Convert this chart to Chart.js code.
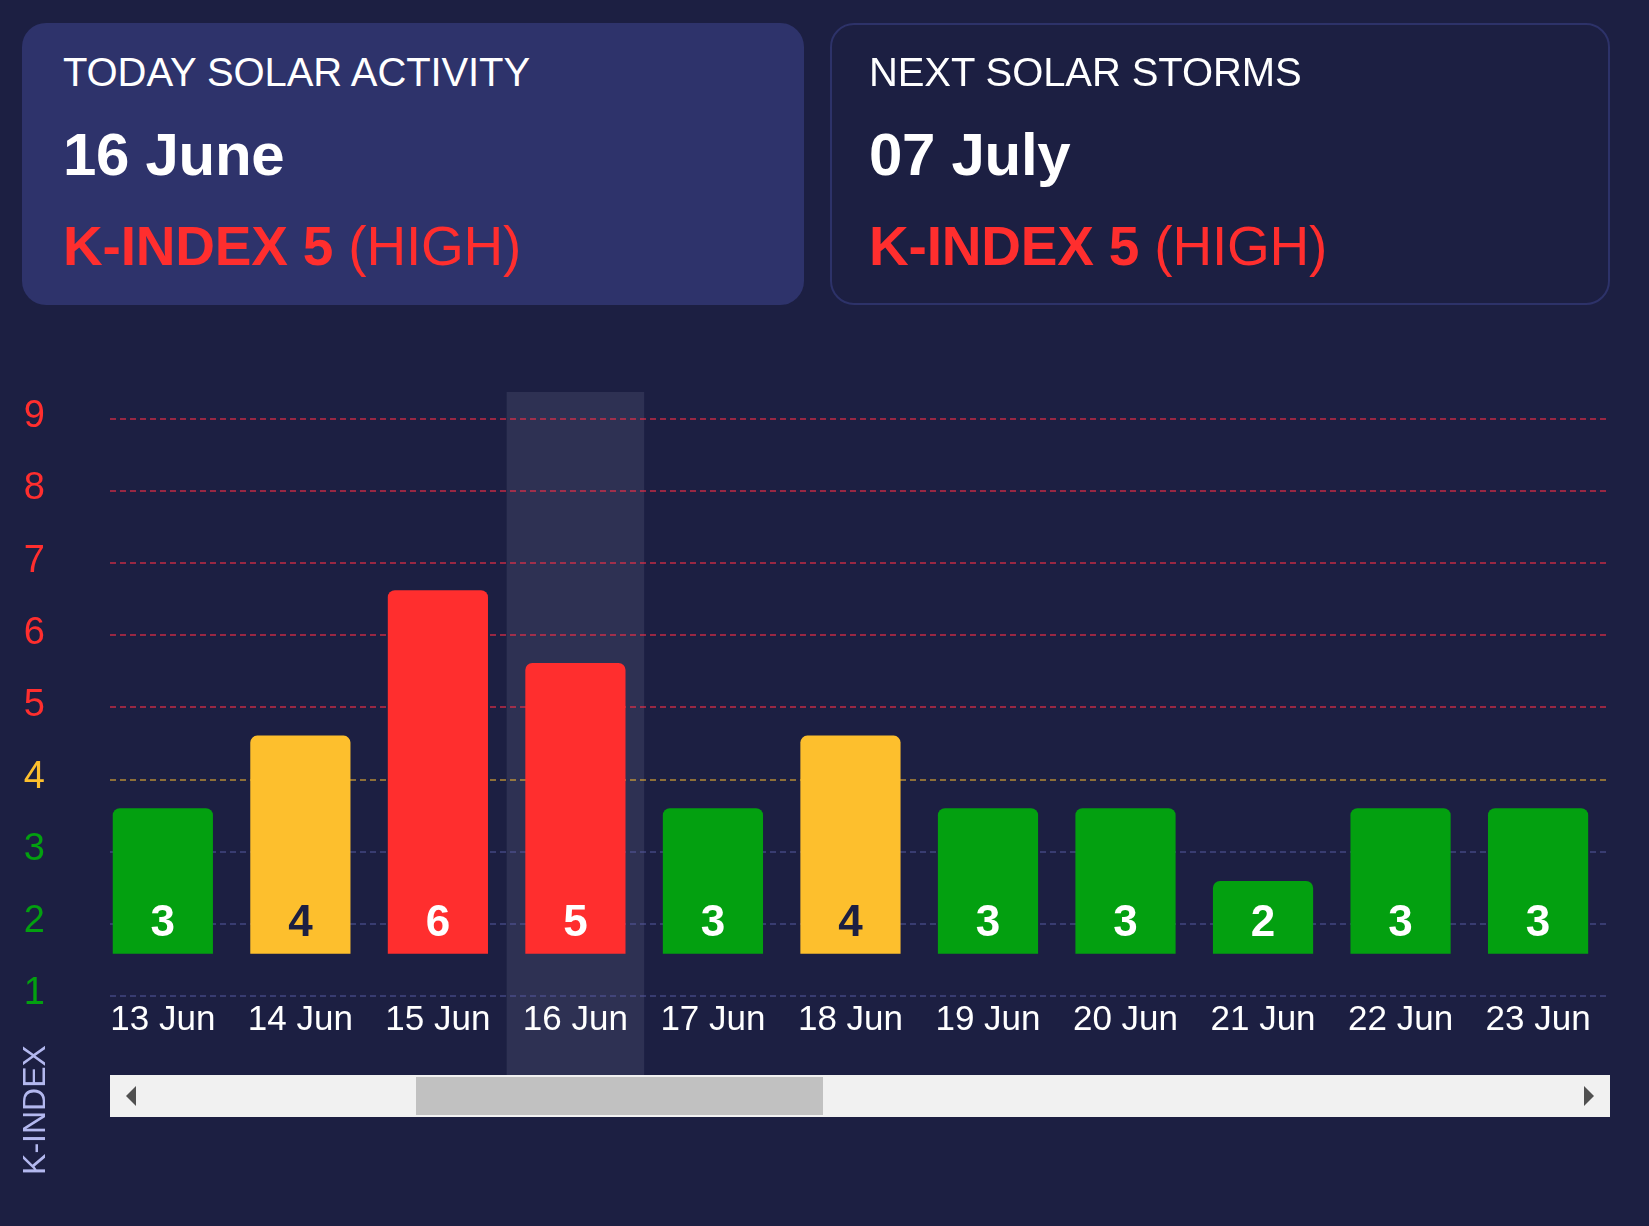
<!DOCTYPE html>
<html>
<head>
<meta charset="utf-8">
<script src="https://cdn.jsdelivr.net/npm/chart.js@4.4.1/dist/chart.umd.min.js"></script>
<style>
  html, body { margin:0; padding:0; background:#1c1f42; }
  body { width:1649px; height:1226px; overflow:hidden; position:relative; font-family:"Liberation Sans", Arial, sans-serif; }
  #chart { position:absolute; left:0; top:0; z-index:0; }
  .card { position:absolute; box-sizing:border-box; z-index:1; }
  #c1 { left:22px; top:23px; width:782px; height:282px; background:#2e336b; border-radius:24px; }
  #c2 { left:830px; top:23px; width:780px; height:282px; border:2px solid #2d3269; border-radius:24px; }
  .t { position:absolute; white-space:nowrap; }
  .t1 { font-size:40px; line-height:40px; color:#fff; letter-spacing:-0.1px; }
  .t2 { font-size:60px; line-height:60px; font-weight:bold; color:#fff; letter-spacing:-0.3px; }
  .t3 { font-size:55px; line-height:55px; color:#ff2e2e; letter-spacing:-0.2px; }
  .t3 b { font-weight:bold; }
  #c1 .t { left:41px; }
  #c1 .t1 { top:29px; } #c1 .t2 { top:102px; } #c1 .t3 { top:196px; }
  #c2 .t { left:37px; }
  #c2 .t1 { top:27px; } #c2 .t2 { top:100px; } #c2 .t3 { top:194px; }
  #ytitle { position:absolute; z-index:1; left:-66px; top:1090px; width:200px; height:40px; line-height:40px; text-align:center;
            font-size:32px; color:#b3b8ef; transform:rotate(-90deg); }
  #track { position:absolute; z-index:1; left:110px; top:1075px; width:1500px; height:42px; background:#f1f1f1; }
  #thumb { position:absolute; z-index:2; left:416px; top:1077px; width:407px; height:38px; background:#c1c1c1; }
  .arr { position:absolute; z-index:2; width:0; height:0; border-top:10px solid transparent; border-bottom:10px solid transparent; top:1086px; }
  #al { left:126px; border-right:10px solid #505050; }
  #ar { left:1584px; border-left:10px solid #505050; }
</style>
</head>
<body>
<canvas id="chart" width="1649" height="1226"></canvas>

<div class="card" id="c1">
  <div class="t t1">TODAY SOLAR ACTIVITY</div>
  <div class="t t2">16 June</div>
  <div class="t t3"><b>K-INDEX 5</b> (HIGH)</div>
</div>
<div class="card" id="c2">
  <div class="t t1">NEXT SOLAR STORMS</div>
  <div class="t t2">07 July</div>
  <div class="t t3"><b>K-INDEX 5</b> (HIGH)</div>
</div>
<div id="ytitle">K-INDEX</div>
<div id="track"></div>
<div id="thumb"></div>
<div class="arr" id="al"></div>
<div class="arr" id="ar"></div>

<script>
// ---- data ----
const categories = ['13 Jun','14 Jun','15 Jun','16 Jun','17 Jun','18 Jun','19 Jun','20 Jun','21 Jun','22 Jun','23 Jun'];
const kIndex = [3, 4, 6, 5, 3, 4, 3, 3, 2, 3, 3];
const yTickValues = [1, 2, 3, 4, 5, 6, 7, 8, 9];
const todayLabel = '16 Jun';

// ---- styles ----
const FONT = '"Liberation Sans", Arial, sans-serif';
const RED = '#ff2e2e', YELLOW = '#fdbf2d', GREEN = '#03a010', DARK = '#1c1f42';
function levelColor(v) { return v >= 5 ? RED : (v >= 4 ? YELLOW : GREEN); }
function gridColor(v) {
  if (v >= 5) return 'rgba(255,46,70,0.55)';
  if (v >= 4) return 'rgba(253,191,45,0.5)';
  return 'rgba(90,95,170,0.45)';
}

const highlightPlugin = {
  id: 'highlight',
  beforeDraw(chart) {
    const x = chart.scales.x;
    const idx = categories.indexOf(todayLabel);
    const l = x.getPixelForValue(idx - 0.5), r = x.getPixelForValue(idx + 0.5);
    const c = chart.ctx;
    c.save();
    c.fillStyle = '#2e3153';
    c.fillRect(l, chart.chartArea.top, r - l, x.bottom - chart.chartArea.top);
    c.restore();
  }
};

const barLabelPlugin = {
  id: 'barLabels',
  afterDatasetsDraw(chart) {
    const meta = chart.getDatasetMeta(0);
    const c = chart.ctx;
    c.save();
    c.font = 'bold 44px ' + FONT;
    c.textAlign = 'center';
    c.textBaseline = 'alphabetic';
    meta.data.forEach((bar, i) => {
      c.fillStyle = kIndex[i] === 4 ? DARK : '#ffffff';
      c.fillText(String(kIndex[i]), bar.x, bar.base - 18);
    });
    c.restore();
  }
};

new Chart(document.getElementById('chart'), {
  type: 'bar',
  data: {
    datasets: [{
      data: kIndex.map((v, i) => ({ x: i, y: v })),
      base: 1,
      backgroundColor: kIndex.map(levelColor),
      borderRadius: { topLeft: 7, topRight: 7, bottomLeft: 0, bottomRight: 0 },
      borderSkipped: 'start',
      barPercentage: 0.7286,
      categoryPercentage: 1,
      xAxisID: 'x',
      yAxisID: 'yBar'
    }]
  },
  options: {
    responsive: false,
    animation: false,
    events: [],
    layout: { padding: { top: 392, left: 0, right: 39, bottom: 151 } },
    plugins: { legend: { display: false }, tooltip: { enabled: false } },
    scales: {
      x: {
        type: 'linear', position: 'bottom', offset: false,
        min: -0.3843, max: 10.523,
        afterBuildTicks: s => { s.ticks = categories.map((_, i) => ({ value: i })); },
        afterFit: s => { s.height = 79; },
        grid: { display: false, offset: false, drawTicks: false },
        border: { display: false },
        ticks: {
          autoSkip: false, maxRotation: 0, minRotation: 0, padding: 3,
          color: '#ffffff', font: { size: 35, family: FONT },
          callback: v => categories[Math.round(v)]
        }
      },
      y: {
        type: 'linear', position: 'left',
        min: 1, max: 9.37,
        afterBuildTicks: s => { s.ticks = yTickValues.map(v => ({ value: v })); },
        afterFit: s => { s.width = 110; },
        grid: { color: c => gridColor(c.tick.value), lineWidth: 2, drawTicks: false },
        border: { display: false, dash: [6, 4] },
        ticks: {
          padding: 65, labelOffset: -2,
          color: c => levelColor(c.tick.value),
          font: { size: 38, family: FONT },
          callback: v => String(v)
        }
      },
      yBar: { type: 'linear', display: false, min: 0.417, max: 8.728 }
    }
  },
  plugins: [highlightPlugin, barLabelPlugin]
});
</script>
</body>
</html>
